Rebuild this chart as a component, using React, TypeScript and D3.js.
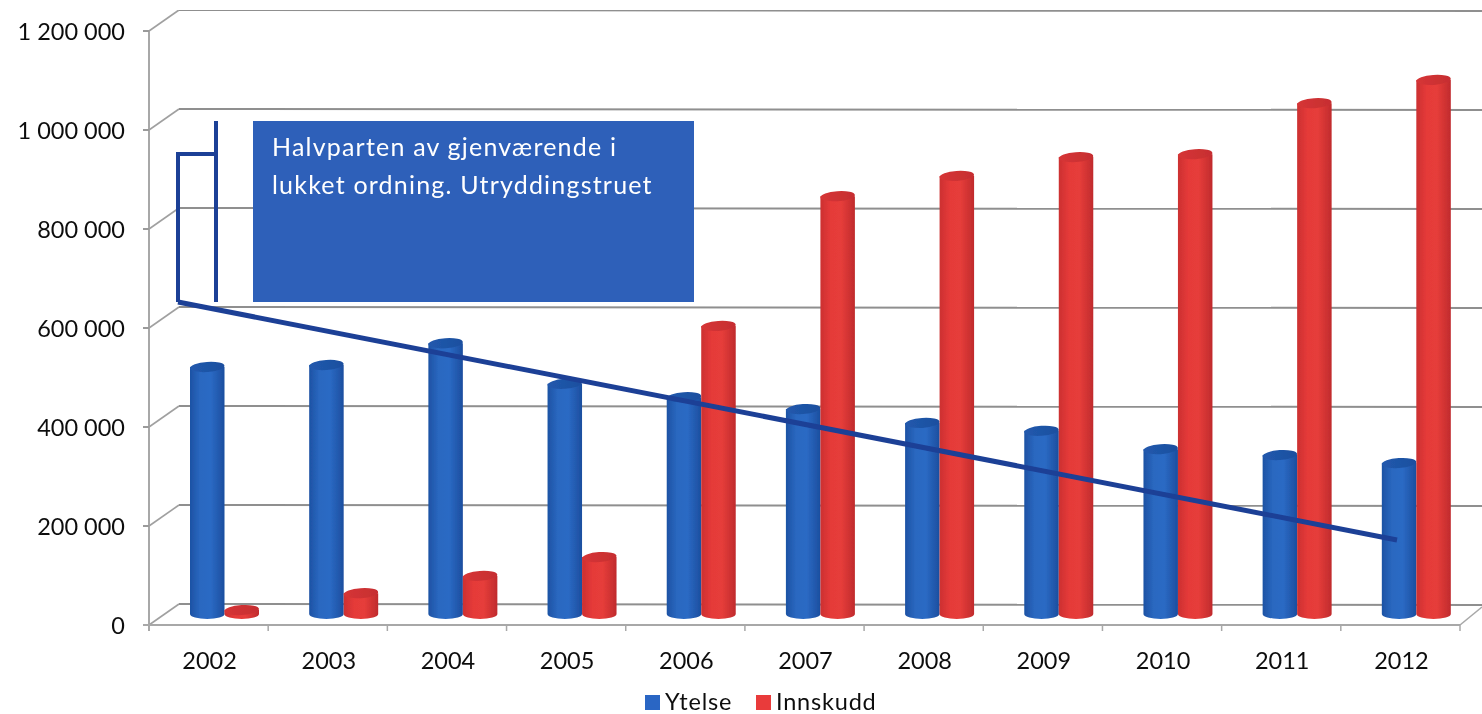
import React from "react";
import * as d3 from "d3";

const years = ["2002","2003","2004","2005","2006","2007","2008","2009","2010","2011","2012"];
const ytelse = [499000,503000,547000,465000,438000,414000,386000,370000,333000,321000,305000];
const innskudd = [8000,42000,77000,115000,582000,844000,885000,923000,929000,1032000,1079000];
const yTicks = [0,200000,400000,600000,800000,1000000,1200000];
const noteLines = ["Halvparten av gjenværende i","lukket ordning. Utryddingstruet"];
const legendItems = [{name:"Ytelse",key:"b"},{name:"Innskudd",key:"r"}];

const W = 1482, H = 714;
const FONT = "Lato, 'Open Sans', sans-serif";
const GRID = "#8f8f8f";
const LINE = "#1d3f96";

const x = d3.scaleBand<string>().domain(years).range([149,1460]);
const y = d3.scaleLinear().domain([0,1200000]).range([625,31]);
const serie = d3.scaleBand<string>().domain(["b","r"]).range([41,110]);
const wallDx = 30, wallDy = 20, barDy = 11, ry = 5;
const fmt = (v:number) => d3.format(",")(v).replace(/,/g," ");

function Cyl({cx,top,base,w,k}:{cx:number;top:number;base:number;w:number;k:string}) {
  const rx = w/2;
  const h = Math.max(base-top,0);
  const d = `M${cx-rx},${top} L${cx-rx},${top+h} A${rx},${ry} 0 0 0 ${cx+rx},${top+h} L${cx+rx},${top} Z`;
  return (
    <g>
      <path d={d} fill={`url(#body-${k})`} />
      <ellipse cx={cx} cy={top} rx={rx} ry={ry} transform={`rotate(-4 ${cx} ${top})`} fill={`url(#cap-${k})`} />
    </g>
  );
}

export default function App() {
  const bw = serie.bandwidth();
  const baseY = y(0)-barDy;
  const trend = d3.line()([[178,302],[1397,540]]) as string;
  return (
    <svg width={W} height={H} viewBox={`0 0 ${W} ${H}`} style={{position:"absolute",left:0,top:0,display:"block",background:"#fff"}}>
      <defs>
        <linearGradient id="body-b" x1="0" x2="1" y1="0" y2="0">
          <stop offset="0" stopColor="#1d52a4"/><stop offset="0.3" stopColor="#2a68c0"/>
          <stop offset="0.6" stopColor="#2b6ac4"/><stop offset="1" stopColor="#1c4e9f"/>
        </linearGradient>
        <linearGradient id="body-r" x1="0" x2="1" y1="0" y2="0">
          <stop offset="0" stopColor="#cc3031"/><stop offset="0.3" stopColor="#e53a39"/>
          <stop offset="0.6" stopColor="#e63d3a"/><stop offset="1" stopColor="#c02b2d"/>
        </linearGradient>
        <linearGradient id="cap-b" x1="0" x2="1" y1="0" y2="0">
          <stop offset="0" stopColor="#2159ad"/><stop offset="1" stopColor="#1c4f9f"/>
        </linearGradient>
        <linearGradient id="cap-r" x1="0" x2="1" y1="0" y2="0">
          <stop offset="0" stopColor="#d63537"/><stop offset="1" stopColor="#c62e30"/>
        </linearGradient>
        <filter id="soft" x="0" y="0" width="100%" height="100%"><feGaussianBlur stdDeviation="0.5"/></filter>
      </defs>
      <g filter="url(#soft)">
        <line x1={149} x2={149} y1={y(1200000)} y2={y(0)+6} stroke="#a8a8a8" strokeWidth={2}/>
        {yTicks.map(t=>(
          <g key={t}>
            <line x1={143} x2={149} y1={y(t)} y2={y(t)} stroke="#9a9a9a" strokeWidth={2}/>
            <line x1={149} x2={149+wallDx} y1={y(t)} y2={y(t)-wallDy-1} stroke="#a0a0a0" strokeWidth={1.6}/>
            <line x1={149+wallDx} x2={W} y1={y(t)-wallDy-1} y2={y(t)-wallDy} stroke={GRID} strokeWidth={2}/>
            <text x={125} y={y(t)+9} textAnchor="end" fontFamily={FONT} fontSize={23.5} fill="#111">{fmt(t)}</text>
          </g>
        ))}
        <line x1={143} x2={1460} y1={y(0)} y2={y(0)} stroke="#a8a8a8" strokeWidth={2}/>
        <line x1={1460} x2={W} y1={y(0)} y2={y(0)-wallDy+2} stroke="#a8a8a8" strokeWidth={1.6}/>
        {[...years.map(c=>x(c) as number),1460].map((p,i)=>(
          <line key={i} x1={p} x2={p} y1={y(0)} y2={y(0)+6} stroke="#a8a8a8" strokeWidth={1.5}/>
        ))}
        {years.map(c=>(
          <text key={c} x={(x(c) as number)+x.bandwidth()/2+1} y={669} textAnchor="middle" fontFamily={FONT} fontSize={23.5} fill="#111">{c}</text>
        ))}
        {years.map((c,i)=>{
          const x0 = x(c) as number;
          return (
            <g key={c}>
              <Cyl k="b" cx={x0+(serie("b") as number)+bw/2} w={bw} base={baseY} top={y(ytelse[i])-barDy}/>
              <Cyl k="r" cx={x0+(serie("r") as number)+bw/2} w={bw} base={baseY} top={y(innskudd[i])-barDy}/>
            </g>
          );
        })}
        <rect x={253} y={121} width={441} height={181} fill="#2f60b9"/>
        {noteLines.map((t,i)=>(
          <text key={i} x={272} y={156+i*38} fontFamily={FONT} fontSize={25} letterSpacing={1.2} fill="#fff">{t}</text>
        ))}
        <path d="M216,121 L216,302" stroke={LINE} strokeWidth={4} fill="none"/>
        <path d="M216,154 L178,154 L178,302" stroke={LINE} strokeWidth={4} fill="none"/>
        <path d={trend} stroke={LINE} strokeWidth={5} fill="none"/>
        {legendItems.map((l,i)=>{
          const lx = i===0 ? 645 : 756;
          return (
            <g key={l.name}>
              <rect x={lx} y={695} width={15} height={15} fill={l.key==="b"?"#2a66c4":"#e93a3a"}/>
              <text x={lx+20} y={710} fontFamily={FONT} fontSize={23.5} letterSpacing={0.8} fill="#111">{l.name}</text>
            </g>
          );
        })}
      </g>
    </svg>
  );
}
